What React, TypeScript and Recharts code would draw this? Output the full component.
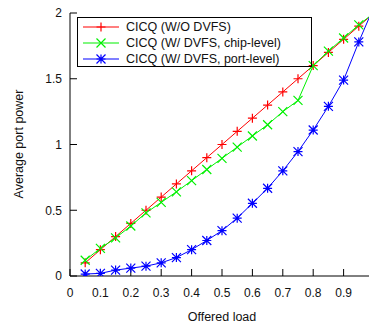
import React from "react";
import { LineChart, Line, XAxis, YAxis, Legend } from "recharts";

const LOAD = [0.05, 0.1, 0.15, 0.2, 0.25, 0.3, 0.35, 0.4, 0.45, 0.5, 0.55, 0.6, 0.65, 0.7, 0.75, 0.8, 0.85, 0.9, 0.95, 1.0];
const NO_DVFS = [0.1, 0.2, 0.3, 0.4, 0.5, 0.6, 0.7, 0.8, 0.9, 1.0, 1.1, 1.2, 1.3, 1.4, 1.5, 1.6, 1.7, 1.8, 1.9, 2.0];
const CHIP_LEVEL = [0.12, 0.21, 0.29, 0.38, 0.48, 0.56, 0.64, 0.725, 0.81, 0.895, 0.98, 1.065, 1.15, 1.25, 1.335, 1.6, 1.71, 1.81, 1.91, 2.0];
const PORT_LEVEL = [0.015, 0.02, 0.045, 0.06, 0.075, 0.1, 0.14, 0.2, 0.27, 0.345, 0.44, 0.553, 0.667, 0.8, 0.946, 1.11, 1.29, 1.49, 1.78, 2.05];

const X_TICKS = [0, 0.1, 0.2, 0.3, 0.4, 0.5, 0.6, 0.7, 0.8, 0.9];
const Y_TICKS = [0, 0.5, 1, 1.5, 2];

const SERIES = [
  { key: "noDvfs", name: "CICQ (W/O DVFS)", color: "#ff0000", marker: "plus" },
  { key: "chip", name: "CICQ (W/ DVFS, chip-level)", color: "#00f000", marker: "cross" },
  { key: "port", name: "CICQ (W/ DVFS, port-level)", color: "#0000ff", marker: "star" },
];

const data = LOAD.map((load, i) => ({
  load,
  noDvfs: NO_DVFS[i],
  chip: CHIP_LEVEL[i],
  port: PORT_LEVEL[i],
}));

const FONT = "'Liberation Sans', Arial, Helvetica, sans-serif";
const R = 4.5;

function markerPath(kind: string, cx: number, cy: number) {
  const plus = `M${cx - R},${cy}H${cx + R}M${cx},${cy - R}V${cy + R}`;
  const cross = `M${cx - R},${cy - R}L${cx + R},${cy + R}M${cx - R},${cy + R}L${cx + R},${cy - R}`;
  if (kind === "plus") return plus;
  if (kind === "cross") return cross;
  return plus + cross;
}

function makeDot(kind: string, color: string) {
  // eslint-disable-next-line @typescript-eslint/no-explicit-any
  return (p: any) => {
    if (p.cx == null || p.cy == null) return <g key={p.index} />;
    return <path key={p.index} d={markerPath(kind, p.cx, p.cy)} stroke={color} strokeWidth={1.2} fill="none" />;
  };
}

function LegendBox() {
  return (
    <div style={{ border: "1px solid #000", boxSizing: "border-box", width: 235, height: 50, paddingTop: 1, fontFamily: FONT, fontSize: 12.5, color: "#111" }}>
      {SERIES.map((s) => (
        <div key={s.key} style={{ display: "flex", alignItems: "center", height: 16 }}>
          <svg width={48} height={16} style={{ display: "block" }}>
            <line x1={5} x2={41} y1={8} y2={8} stroke={s.color} strokeWidth={1.2} />
            <path d={markerPath(s.marker, 23, 8)} stroke={s.color} strokeWidth={1.2} fill="none" />
          </svg>
          <span style={{ whiteSpace: "nowrap", lineHeight: "16px" }}>{s.name}</span>
        </div>
      ))}
    </div>
  );
}

const tickStyle = { fontSize: 12, fontFamily: FONT, fill: "#111" };
const fmt = (v: number) => String(+v.toFixed(1));

export default function App() {
  return (
    <div style={{ position: "absolute", left: 0, top: 0, width: 369, height: 326, overflow: "hidden", background: "#fff" }}>
      <LineChart width={390} height={326} data={data} margin={{ top: 13, right: 0, bottom: 0, left: 0 }}>
        <XAxis
          dataKey="load" type="number" domain={[0, 1]} ticks={X_TICKS} tickFormatter={fmt}
          height={50} tickSize={-7} tickMargin={19}
          stroke="#000" tick={tickStyle}
          label={{ value: "Offered load", position: "insideBottom", offset: 5, style: { fontFamily: FONT, fontSize: 12.5, fill: "#111" } }}
        />
        <XAxis
          xAxisId="top" orientation="top" dataKey="load" type="number" domain={[0, 1]} ticks={X_TICKS}
          height={0} tickSize={-7} tickFormatter={() => ""} stroke="#000"
        />
        <YAxis
          type="number" domain={[0, 2]} ticks={Y_TICKS} tickFormatter={fmt} allowDataOverflow
          width={70} tickSize={-7} tickMargin={15} stroke="#000" tick={tickStyle}
        />
        <YAxis
          yAxisId="right" orientation="right" type="number" domain={[0, 2]} ticks={Y_TICKS}
          width={16} tickSize={-7} tickFormatter={() => ""} stroke="#000"
        />
        <Legend
          layout="vertical" align="center" verticalAlign="middle"
          wrapperStyle={{ left: 77, top: 17, width: 235, height: 50 }}
          content={() => <LegendBox />}
        />
        {SERIES.map((s) => (
          <Line
            key={s.key} type="linear" dataKey={s.key} name={s.name}
            stroke={s.color} strokeWidth={1} dot={makeDot(s.marker, s.color)} activeDot={false}
            isAnimationActive={false}
          />
        ))}
      </LineChart>
      <div style={{
        position: "absolute", left: 19, top: 144, transform: "translate(-50%, -50%) rotate(-90deg)",
        whiteSpace: "nowrap", fontFamily: FONT, fontSize: 12.5, color: "#111",
      }}>
        Average port power
      </div>
    </div>
  );
}
